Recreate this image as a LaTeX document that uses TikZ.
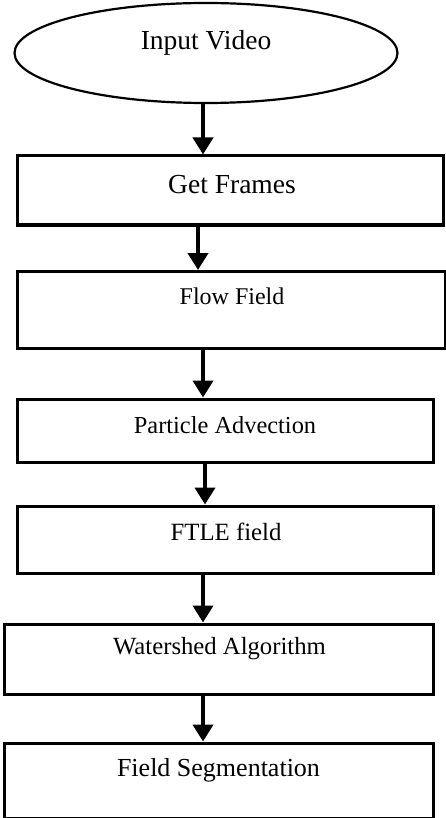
\documentclass[tikz,border=0pt]{standalone}
\usepackage{fontspec}
\setmainfont{Liberation Serif}
\usetikzlibrary{shapes.geometric,arrows.meta}
\begin{document}
\begin{tikzpicture}[x=1pt,y=1pt,
  stepbox/.style={draw,line width=3pt,rectangle,inner sep=0pt,anchor=north west},
  arr/.style={line width=4pt,-{Triangle[length=17pt,width=20pt]}}]
\useasboundingbox (0,0) rectangle (446,-818);
\node[draw,ellipse,line width=2.2pt,minimum width=383pt,minimum height=100pt,inner sep=0pt,
  label={[font=\fontsize{27.5}{30}\selectfont,yshift=10pt]center:Input Video}] (ell) at (206,-53) {};
\node[stepbox,minimum width=426pt,minimum height=69pt,
  label={[font=\fontsize{27.5}{30}\selectfont,xshift=2pt,yshift=5.5pt]center:Get Frames}] (b1) at (15.5,-154.5) {};
\node[stepbox,minimum width=428pt,minimum height=77pt,
  label={[font=\fontsize{24}{28}\selectfont,xshift=1pt,yshift=13.5pt]center:Flow Field}] (b2) at (15.5,-270) {};
\node[stepbox,minimum width=416pt,minimum height=63pt,
  label={[font=\fontsize{24.4}{28}\selectfont,yshift=5.5pt]center:Particle Advection}] (b3) at (15.5,-397.5) {};
\node[stepbox,minimum width=416pt,minimum height=67pt,
  label={[font=\fontsize{24.8}{28}\selectfont,xshift=1pt,yshift=7.5pt]center:FTLE field}] (b4) at (15.5,-504.5) {};
\node[stepbox,minimum width=429pt,minimum height=70pt,
  label={[font=\fontsize{24.7}{28}\selectfont,xshift=1pt,yshift=10pt]center:Watershed Algorithm}] (b5) at (2.5,-622.5) {};
\node[stepbox,minimum width=429pt,minimum height=75pt,
  label={[font=\fontsize{26}{30}\selectfont,yshift=10.5pt]center:Field Segmentation}] (b6) at (2.5,-741.5) {};
\draw[arr] ([xshift=-3pt]ell.south) -- ([xshift=-3pt]ell.south |- b1.north);
\draw[arr] ([xshift=-32pt]b1.south) -- ([xshift=-32pt]b1.south |- b2.north);
\draw[arr] ([xshift=-28pt]b2.south) -- ([xshift=-28pt]b2.south |- b3.north);
\draw[arr] ([xshift=-20pt]b3.south) -- ([xshift=-20pt]b3.south |- b4.north);
\draw[arr] ([xshift=-22pt]b4.south) -- ([xshift=-22pt]b4.south |- b5.north);
\draw[arr] ([xshift=-15.5pt]b5.south) -- ([xshift=-15.5pt]b5.south |- b6.north);
\end{tikzpicture}
\end{document}
